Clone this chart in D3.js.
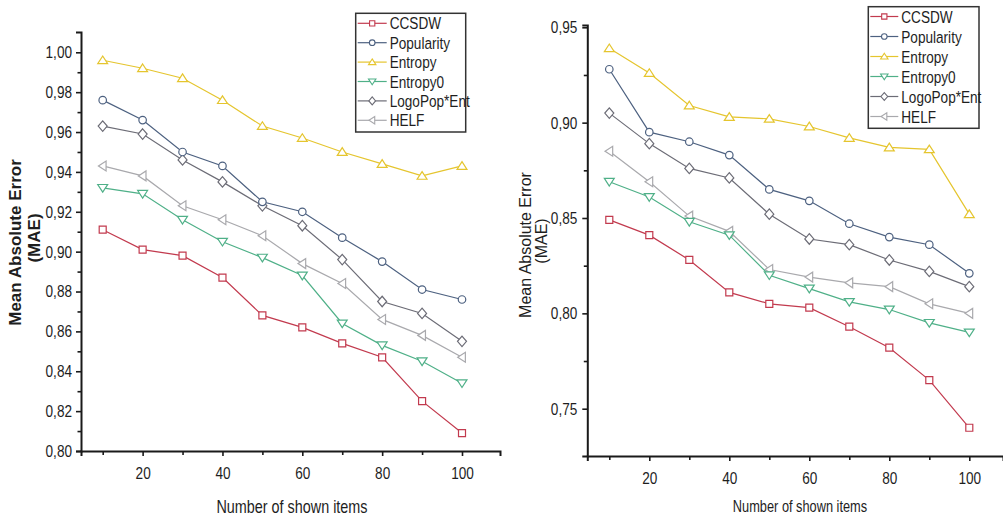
<!DOCTYPE html>
<html>
<head>
<meta charset="utf-8">
<script src="https://cdn.jsdelivr.net/npm/d3@7"></script>
<style>
  html, body { margin: 0; padding: 0; background: #fff; }
  svg { display: block; }
  text { font-family: "Liberation Sans", Arial, sans-serif; fill: #1e1e1e; }
</style>
</head>
<body>
<svg id="chart" width="1003" height="519"></svg>
<script>
// ---------------- DATA ----------------
const xValues = [10, 20, 30, 40, 50, 60, 70, 80, 90, 100];
const xTickMajor = [20, 40, 60, 80, 100];
const xTickMinor = [10, 30, 50, 70, 90];
const seriesNames = ["CCSDW", "Popularity", "Entropy", "Entropy0", "LogoPop*Ent", "HELF"];
const seriesColors = ["#c23a4e", "#4d6180", "#e5c52e", "#4fb088", "#6c6c76", "#a9a9ad"];
const seriesMarkers = ["square", "circle", "triangleUp", "triangleDown", "diamond", "triangleLeft"];

// left panel values
const leftCCSDW      = [0.911, 0.901, 0.898, 0.887, 0.868, 0.862, 0.854, 0.847, 0.825, 0.809];
const leftPopularity = [0.976, 0.966, 0.950, 0.943, 0.925, 0.920, 0.907, 0.895, 0.881, 0.876];
const leftEntropy    = [0.996, 0.992, 0.987, 0.976, 0.963, 0.957, 0.950, 0.944, 0.938, 0.943];
const leftEntropy0   = [0.932, 0.929, 0.916, 0.905, 0.897, 0.888, 0.864, 0.853, 0.845, 0.834];
const leftLogoPopEnt = [0.963, 0.959, 0.946, 0.935, 0.923, 0.913, 0.896, 0.875, 0.869, 0.855];
const leftHELF       = [0.943, 0.938, 0.923, 0.916, 0.908, 0.894, 0.884, 0.866, 0.858, 0.847];
const leftYTicksMajor = [0.80, 0.82, 0.84, 0.86, 0.88, 0.90, 0.92, 0.94, 0.96, 0.98, 1.00];
const leftYTicksMinor = [0.81, 0.83, 0.85, 0.87, 0.89, 0.91, 0.93, 0.95, 0.97, 0.99];

// right panel values
const rightCCSDW      = [0.849, 0.841, 0.828, 0.811, 0.805, 0.803, 0.793, 0.782, 0.765, 0.740];
const rightPopularity = [0.928, 0.895, 0.890, 0.883, 0.865, 0.859, 0.847, 0.840, 0.836, 0.821];
const rightEntropy    = [0.939, 0.926, 0.909, 0.903, 0.902, 0.898, 0.892, 0.887, 0.886, 0.852];
const rightEntropy0   = [0.869, 0.861, 0.848, 0.841, 0.820, 0.813, 0.806, 0.802, 0.795, 0.790];
const rightLogoPopEnt = [0.905, 0.889, 0.876, 0.871, 0.852, 0.839, 0.836, 0.828, 0.822, 0.814];
const rightHELF       = [0.885, 0.869, 0.851, 0.843, 0.823, 0.819, 0.816, 0.814, 0.805, 0.800];
const rightYTicksMajor = [0.75, 0.80, 0.85, 0.90, 0.95];
const rightYTicksMinor = [0.775, 0.825, 0.875, 0.925];

const xTitle = "Number of shown items";
const yTitle1 = "Mean Absolute Error";
const yTitle2 = "(MAE)";

// ---------------- DRAWING ----------------
const svg = d3.select("#chart");
const SX = 0.8; // horizontal squeeze of the original picture's texts
const fmt = d => d3.format(".2f")(d).replace(".", ",");

function markerPath(type, s) {
  const h = s / 2;
  switch (type) {
    case "square": return `M${-h},${-h}H${h}V${h}H${-h}Z`;
    case "circle": return `M${h},0A${h},${h} 0 1,1 ${-h},0A${h},${h} 0 1,1 ${h},0Z`;
    case "triangleUp": return `M0,${-h*0.95}L${h*1.1},${h*0.75}L${-h*1.1},${h*0.75}Z`;
    case "triangleDown": return `M0,${h*0.95}L${h*1.1},${-h*0.75}L${-h*1.1},${-h*0.75}Z`;
    case "diamond": return `M0,${-h*1.05}L${h*0.9},0L0,${h*1.05}L${-h*0.9},0Z`;
    case "triangleLeft": return `M${-h*0.95},0L${h*0.75},${-h*1.1}L${h*0.75},${h*1.1}Z`;
  }
}
const markerSize = {square: 7, circle: 7.5, triangleUp: 9, triangleDown: 9, diamond: 10, triangleLeft: 9};

function squeezedText(g, x, y, str, size, anchor, weight) {
  return g.append("text")
    .attr("transform", `translate(${x},${y}) scale(${SX},1)`)
    .attr("text-anchor", anchor || "start")
    .attr("font-size", size)
    .attr("font-weight", weight || "normal")
    .text(str);
}

function drawPanel(cfg) {
  const g = svg.append("g");
  const x = d3.scaleLinear().domain(cfg.xDomain).range(cfg.xRange);
  const y = d3.scaleLinear().domain(cfg.yDomain).range(cfg.yRange);
  const axisColor = "#1a1a1a";

  // data lines + markers
  const order = [5, 4, 3, 2, 1, 0];
  order.forEach(i => {
    const vals = cfg.series[i];
    const pts = xValues.map((xv, k) => [x(xv), y(vals[k])]);
    g.append("path")
      .attr("d", d3.line()(pts))
      .attr("fill", "none")
      .attr("stroke", seriesColors[i])
      .attr("stroke-width", 1.2);
    g.selectAll(null).data(pts).enter().append("path")
      .attr("transform", p => `translate(${p[0]},${p[1]})`)
      .attr("d", markerPath(seriesMarkers[i], markerSize[seriesMarkers[i]]))
      .attr("fill", "#fff")
      .attr("stroke", seriesColors[i])
      .attr("stroke-width", 1.2);
  });

  // y axis
  const yAx = g.append("g").attr("transform", `translate(${cfg.xRange[0]},0)`)
    .call(d3.axisLeft(y).tickValues(cfg.yMajor).tickSize(5).tickPadding(cfg.yPad).tickFormat(fmt));
  g.append("g").attr("transform", `translate(${cfg.xRange[0]},0)`)
    .call(d3.axisLeft(y).tickValues(cfg.yMinor).tickSize(3.5).tickFormat(""))
    .select(".domain").remove();
  yAx.select(".domain").attr("stroke", axisColor).attr("stroke-width", 2);
  yAx.selectAll(".tick text").each(function () {
    const t = d3.select(this);
    const xx = +t.attr("x");
    t.attr("x", xx / SX).attr("transform", `scale(${SX},1)`)
     .attr("font-size", 17).attr("font-family", null).attr("fill", "#1e1e1e");
  });
  g.selectAll(".tick line").attr("stroke", axisColor).attr("stroke-width", 1.6);

  // x axis
  const xAx = g.append("g").attr("transform", `translate(0,${cfg.yRange[0]})`)
    .call(d3.axisBottom(x).tickValues(xTickMajor).tickSize(5).tickPadding(10.5).tickFormat(d3.format("d")));
  g.append("g").attr("transform", `translate(0,${cfg.yRange[0]})`)
    .call(d3.axisBottom(x).tickValues(xTickMinor).tickSize(4).tickFormat(""))
    .call(s => s.select(".domain").remove())
    .selectAll(".tick line").attr("stroke", axisColor).attr("stroke-width", 1.6);
  xAx.select(".domain").attr("stroke", axisColor).attr("stroke-width", 2);
  xAx.selectAll(".tick line").attr("stroke", axisColor).attr("stroke-width", 1.6);
  xAx.selectAll(".tick text").each(function () {
    const t = d3.select(this);
    t.attr("transform", `scale(${SX},1)`).attr("font-size", 17)
     .attr("font-family", null).attr("fill", "#1e1e1e");
  });

  // axis titles
  squeezedText(g, cfg.xTitlePos[0], cfg.xTitlePos[1], xTitle, cfg.xTitleSize, "middle");
  g.append("text")
    .attr("transform", `translate(${cfg.yTitle1Pos[0]},${cfg.yTitle1Pos[1]}) rotate(-90)`)
    .attr("text-anchor", "middle").attr("dominant-baseline", "central")
    .attr("font-size", cfg.yTitleSize).attr("font-weight", cfg.yTitleWeight)
    .text(yTitle1);
  g.append("text")
    .attr("transform", `translate(${cfg.yTitle2Pos[0]},${cfg.yTitle2Pos[1]}) rotate(-90)`)
    .attr("text-anchor", "middle").attr("dominant-baseline", "central")
    .attr("font-size", cfg.yTitleSize).attr("font-weight", cfg.yTitleWeight)
    .text(yTitle2);

  // legend
  const L = cfg.legend;
  g.append("rect").attr("x", L.x).attr("y", L.y).attr("width", L.w).attr("height", L.h)
    .attr("fill", "#fff").attr("stroke", "#333").attr("stroke-width", 1.5);
  seriesNames.forEach((name, i) => {
    const cy = L.y0 + i * L.dy;
    g.append("line").attr("x1", L.x + 2).attr("x2", L.x + L.lineLen).attr("y1", cy).attr("y2", cy)
      .attr("stroke", seriesColors[i]).attr("stroke-width", 1.2);
    g.append("path").attr("transform", `translate(${L.x + 2 + (L.lineLen - 2) / 2},${cy})`)
      .attr("d", markerPath(seriesMarkers[i], markerSize[seriesMarkers[i]] * 0.75))
      .attr("fill", "#fff").attr("stroke", seriesColors[i]).attr("stroke-width", 1.1);
    squeezedText(g, L.x + L.lineLen + 3, cy + 6, name, 17, "start");
  });
}

// Left panel: calibrated from the picture (x: 10 -> 102.7px, 100 -> 462px; y: 0.80 -> 451px, 1.00 -> 52.3px)
const lx = d3.scaleLinear().domain([10, 100]).range([102.7, 462]);
const ly = d3.scaleLinear().domain([0.80, 1.00]).range([451, 52.3]);
drawPanel({
  series: [leftCCSDW, leftPopularity, leftEntropy, leftEntropy0, leftLogoPopEnt, leftHELF],
  xDomain: [lx.invert(81), lx.invert(500)], xRange: [81, 500],
  yDomain: [0.80, ly.invert(32)], yRange: [451, 32],
  yMajor: leftYTicksMajor, yMinor: leftYTicksMinor, yPad: 4,
  xTitlePos: [292, 513], xTitleSize: 18,
  yTitle1Pos: [15, 242.5], yTitle2Pos: [34, 238], yTitleSize: 17, yTitleWeight: "bold",
  legend: {x: 355.7, y: 13.3, w: 110, h: 118.7, y0: 23.3, dy: 19.4, lineLen: 31}
});

// Right panel (x: 10 -> 609.3px, 100 -> 969.3px; y: 0.75 -> 408.7px, 0.95 -> 27.3px)
const rx = d3.scaleLinear().domain([10, 100]).range([609.3, 969.3]);
const ry = d3.scaleLinear().domain([0.75, 0.95]).range([408.7, 27.3]);
drawPanel({
  series: [rightCCSDW, rightPopularity, rightEntropy, rightEntropy0, rightLogoPopEnt, rightHELF],
  xDomain: [rx.invert(587.3), rx.invert(1003)], xRange: [587.3, 1003],
  yDomain: [ry.invert(456), ry.invert(25)], yRange: [456, 25],
  yMajor: rightYTicksMajor, yMinor: rightYTicksMinor, yPad: 5,
  xTitlePos: [800, 512], xTitleSize: 16,
  yTitle1Pos: [525, 245], yTitle2Pos: [541.5, 241], yTitleSize: 16, yTitleWeight: "normal",
  legend: {x: 868.3, y: 6.7, w: 110.7, h: 121.6, y0: 16.5, dy: 20, lineLen: 30}
});
</script>
</body>
</html>
